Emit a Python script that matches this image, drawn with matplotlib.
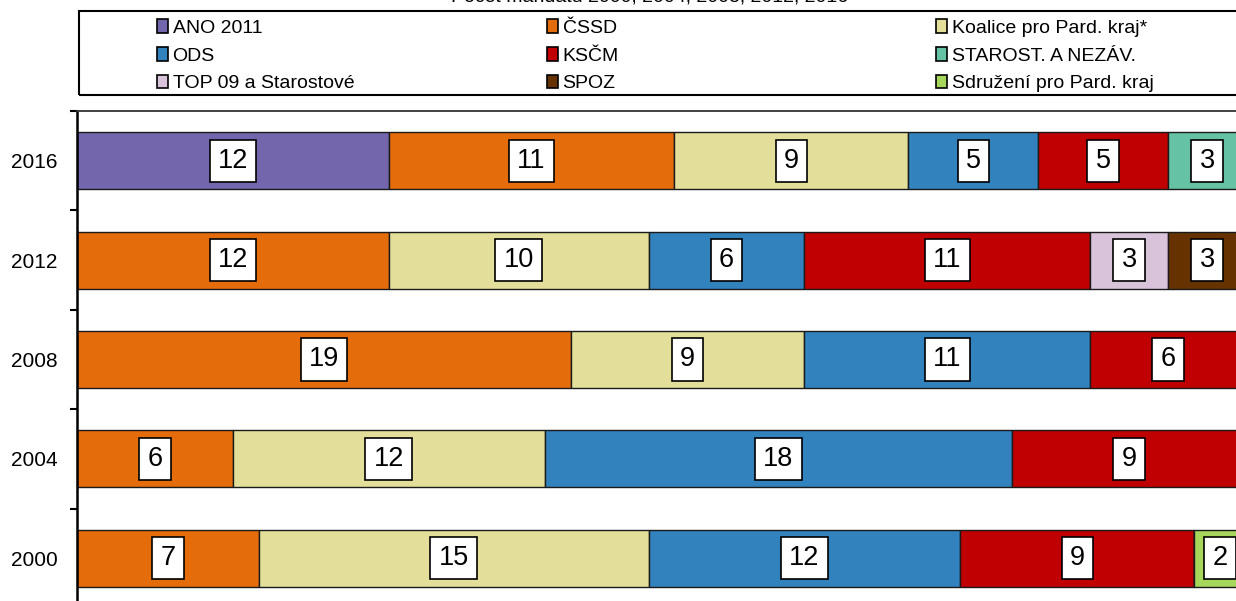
import matplotlib
matplotlib.use("Agg")
import matplotlib.pyplot as plt
from matplotlib.patches import Rectangle, Patch
import numpy as np

plt.rcParams['font.family'] = ['Liberation Sans', 'DejaVu Sans']

# ---- data ----
years = ['2016', '2012', '2008', '2004', '2000']
parties = ['ANO 2011', 'ČSSD', 'Koalice pro Pard. kraj*', 'ODS', 'KSČM',
           'STAROST. A NEZÁV.', 'TOP 09 a Starostové', 'SPOZ', 'Sdružení pro Pard. kraj']
ano = [12, 0, 0, 0, 0]
cssd = [11, 12, 19, 6, 7]
koalice = [9, 10, 9, 12, 15]
ods = [5, 6, 11, 18, 12]
kscm = [5, 11, 6, 9, 9]
starost = [3, 0, 0, 0, 0]
top09 = [0, 3, 0, 0, 0]
spoz = [0, 3, 0, 0, 0]
sdruzeni = [0, 0, 0, 0, 2]
series = [ano, cssd, koalice, ods, kscm, starost, top09, spoz, sdruzeni]
colors = ['#7366AC', '#E46C0A', '#E3DF9A', '#3182BD', '#C00000',
          '#66C2A5', '#D9C3DA', '#663300', '#A6D65A']
title = 'Počet mandátů 2000, 2004, 2008, 2012, 2016'

W, H = 1236, 601
fig = plt.figure(figsize=(W / 100, H / 100), dpi=100)

ax_left, ax_right, ax_top, ax_bottom = 77, 1246, 111, 608
ax = fig.add_axes([ax_left / W, (H - ax_bottom) / H,
                   (ax_right - ax_left) / W, (ax_bottom - ax_top) / H])

ypos = np.arange(len(years))
left = np.zeros(len(years))
for vals, col, name in zip(series, colors, parties):
    vals = np.array(vals, dtype=float)
    bc = ax.barh(ypos, vals, left=left, height=0.573, color=col,
                 edgecolor='#1a1a1a', linewidth=1.0, label=name)
    labels = [str(int(v)) if v > 0 else '' for v in vals]
    ax.bar_label(bc, labels=labels, label_type='center', fontsize=19.5,
                 color='black',
                 bbox=dict(boxstyle='square,pad=0.3', fc='white', ec='black', lw=1.2))
    left += vals

ax.set_xlim(0, 45)
ax.set_ylim(len(years) - 0.5, -0.5)
ax.set_xticks([])
ax.set_yticks(ypos)
ax.set_yticklabels(years, fontsize=15)
ax.set_yticks(np.arange(-0.5, len(years) + 0.5, 1.0), minor=True)
ax.tick_params(axis='y', which='major', length=0, pad=14)
ax.tick_params(axis='y', which='minor', length=5, width=1.5, color='black', direction='out')
ax.spines['left'].set_linewidth(1.8)
ax.spines['left'].set_color('black')
ax.spines['top'].set_linewidth(1.3)
ax.spines['top'].set_color('#333333')

# ---- legend (three columns) ----
handles = [Patch(facecolor=c, edgecolor='black', linewidth=1.2) for c in colors]
col_x = [157, 547, 936]
for ci in range(3):
    idx = [ci, ci + 3, ci + 6]
    fig.legend([handles[i] for i in idx], [parties[i] for i in idx],
               loc='upper left', bbox_to_anchor=(col_x[ci] / W, 1 - 19 / H),
               frameon=False, borderpad=0, borderaxespad=0, fontsize=14,
               handlelength=0.55, handleheight=0.7, handletextpad=0.25,
               labelspacing=0.53)

fig.add_artist(Rectangle((79 / W, 1 - 95 / H), 1.2, 84 / H,
                         transform=fig.transFigure, fill=False,
                         edgecolor='black', linewidth=1.5))

fig.text(650 / W, 1 - 2 / H, title, ha='center', va='baseline', fontsize=14)

fig.savefig('out.png', dpi=100)
